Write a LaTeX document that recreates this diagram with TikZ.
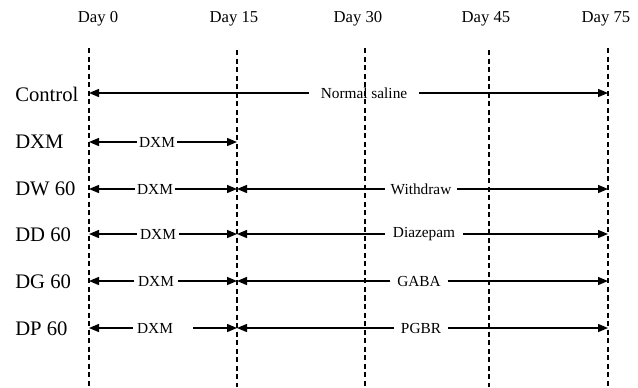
\documentclass[tikz,border=0pt]{standalone}
\usepackage{fontspec}
\setmainfont{Liberation Serif}
\usetikzlibrary{arrows.meta}
\begin{document}
\begin{tikzpicture}[x=0.75pt,y=-0.75pt,
  dayline/.style={line width=0.95pt, dash pattern=on 3.8pt off 2.6pt},
  arr/.style={-{Triangle[length=7.5pt,width=6pt]}, line width=1.05pt},
  rowlab/.style={anchor=west, inner sep=0pt, font=\fontsize{15.5}{18}\selectfont},
  daylab/.style={inner sep=0pt, font=\fontsize{12.5}{15}\selectfont},
  txt/.style={inner ysep=0pt, font=\fontsize{11.5}{14}\selectfont}]
\useasboundingbox (0,0) rectangle (638,387);
% day labels and lines
\node[daylab] (day0) at (98,19) {Day 0};
\node[daylab] (day15) at (234,19) {Day 15};
\node[daylab] (day30) at (358,19) {Day 30};
\node[daylab] (day45) at (486,19) {Day 45};
\node[daylab] (day75) at (606,19) {Day 75};
\coordinate (t0) at (89,48);  \coordinate (b0) at (89,387);
\coordinate (t15) at (237,50); \coordinate (b15) at (237,387);
\coordinate (t30) at (365,48); \coordinate (b30) at (365,387);
\coordinate (t45) at (489,50); \coordinate (b45) at (489,387);
\coordinate (t75) at (608,48); \coordinate (b75) at (608,387);
\foreach \d in {0,15,30,45,75} \draw[dayline] (t\d) -- (b\d);
% row labels
\node[rowlab] (rC) at (15,94) {Control};
\node[rowlab] (rX) at (15,142) {DXM};
\node[rowlab] (rW) at (15,189) {DW 60};
\node[rowlab] (rD) at (15,235) {DD 60};
\node[rowlab] (rG) at (15,282) {DG 60};
\node[rowlab] (rP) at (15,329) {DP 60};
% endpoints
\foreach \n/\y in {C/93,X/142,W/189,D/234,G/281,P/328}{
  \coordinate (s\n) at (89,\y);
  \coordinate (m\n) at (237,\y);
  \coordinate (e\n) at (608,\y);
}
% Control
\node[txt, inner xsep=12pt*0.75] (lC) at (364,93) {Normal saline};
\draw[arr] (lC.west) -- (sC);
\draw[arr] (lC.east) -- (eC);
% DXM row
\node[txt, inner xsep=1.5pt] (lX) at (157,142) {DXM};
\draw[arr] (lX.west) -- (sX);
\draw[arr] (lX.east) -- (mX);
% DW 60
\node[txt, inner xsep=1.5pt] (lW1) at (155,189) {DXM};
\draw[arr] (lW1.west) -- (sW);
\draw[arr] (lW1.east) -- (mW);
\node[txt, inner xsep=4pt] (lW2) at (421,189) {Withdraw};
\draw[arr] (lW2.west) -- (mW);
\draw[arr] (lW2.east) -- (eW);
% DD 60
\node[txt, inner xsep=2pt] (lD1) at (158,234) {DXM};
\draw[arr] (lD1.west) -- (sD);
\draw[arr] (lD1.east) -- (mD);
\node[txt, inner xsep=6pt] (lD2) at (424,234) {Diazepam};
\draw[arr] (lD2.west) -- (mD);
\draw[arr] (lD2.east) -- (eD);
% DG 60
\node[txt, inner xsep=3pt] (lG1) at (156,281) {DXM};
\draw[arr] (lG1.west) -- (sG);
\draw[arr] (lG1.east) -- (mG);
\node[txt, inner xsep=5pt] (lG2) at (419,281) {GABA};
\draw[arr] (lG2.west) -- (mG);
\draw[arr] (lG2.east) -- (eG);
% DP 60
\node[txt, inner xsep=3pt] (lP1) at (155,328) {DXM};
\draw[arr] ([xshift=-0pt]lP1.west) -- (sP);
\draw[arr] ([xshift=12pt]lP1.east) -- (mP);
\node[txt, inner xsep=5pt] (lP2) at (421,328) {PGBR};
\draw[arr] (lP2.west) -- (mP);
\draw[arr] (lP2.east) -- (eP);
\end{tikzpicture}
\end{document}
